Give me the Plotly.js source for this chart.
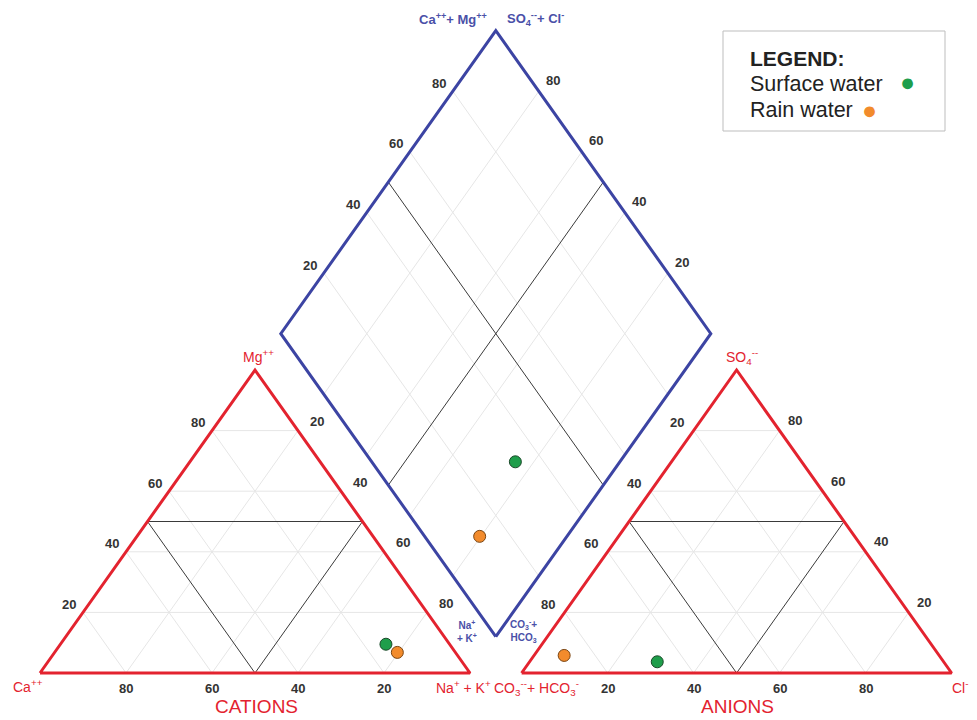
<!DOCTYPE html>
<html>
<head>
<meta charset="utf-8">
<script src="https://cdn.plot.ly/plotly-3.0.1.min.js"></script>
<style>
  html, body { margin: 0; padding: 0; background: #ffffff; }
  #chart { width: 977px; height: 720px; }
</style>
</head>
<body>
<div id="chart"></div>
<script>
// Sample groups and their major-ion composition (% of meq/L)
const samples = ["Surface water", "Rain water"];
const sampleColors = ["#1f9e4b", "#f28b2c"];
const sampleEdges = ["#1b4a2a", "#7a4512"];
// cations
const caPct = [14.8, 13.5];
const mgPct = [9.5, 6.8];
const naKPct = [75.7, 79.7];
// anions
const hco3Pct = [66.6, 87.2];
const so4Pct = [3.7, 5.8];
const clPct = [29.7, 7.0];

const tickValues = [20, 40, 60, 80];
const gridLevels = [20, 40, 60, 80];

// ---- Piper geometry (side = 100, gap between triangles = 12) ----
const H = Math.sqrt(3) / 2;
const GAP = 12;
const CA = [0, 0], NA = [100, 0], MG = [50, 100 * H];
const OX = 100 + GAP;
const CO3 = [OX, 0], CL = [OX + 100, 0], SO4 = [OX + 50, 100 * H];
const DB = [100 + GAP / 2, (GAP / 2) * Math.sqrt(3)];
const DL = [DB[0] - 50, DB[1] + 100 * H];
const DR = [DB[0] + 50, DB[1] + 100 * H];
const DT = [DB[0], DB[1] + 200 * H];

function tern(A, B, C, a, b, c) {
  const s = a + b + c;
  return [(a * A[0] + b * B[0] + c * C[0]) / s, (a * A[1] + b * B[1] + c * C[1]) / s];
}
function cation(ca, na, mg) { return tern(CA, NA, MG, ca, na, mg); }
function anion(co3, cl, so4) { return tern(CO3, CL, SO4, co3, cl, so4); }
// diamond: fraction of Ca+Mg along DB->DL, fraction of SO4+Cl along DB->DR
function diamond(camg, so4cl) {
  const a = camg / 100, b = so4cl / 100;
  return [DB[0] + a * (DL[0] - DB[0]) + b * (DR[0] - DB[0]),
          DB[1] + a * (DL[1] - DB[1]) + b * (DR[1] - DB[1])];
}

function segs(list) {
  const x = [], y = [];
  list.forEach(s => { x.push(s[0][0], s[1][0], null); y.push(s[0][1], s[1][1], null); });
  return { x, y };
}

function triGrid(f, levels) {
  const out = [];
  levels.forEach(k => {
    const r = 100 - k;
    out.push([f(k, r, 0), f(k, 0, r)]);
    out.push([f(r, k, 0), f(0, k, r)]);
    out.push([f(r, 0, k), f(0, r, k)]);
  });
  return out;
}
function diaGrid(levels) {
  const out = [];
  levels.forEach(k => {
    out.push([diamond(k, 0), diamond(k, 100)]);
    out.push([diamond(0, k), diamond(100, k)]);
  });
  return out;
}

const greyLines = segs([].concat(triGrid(cation, gridLevels), triGrid(anion, gridLevels), diaGrid(gridLevels)));
const blackLines = segs([].concat(triGrid(cation, [50]), triGrid(anion, [50]), diaGrid([50])));

const RED = "#e3232f", BLUE = "#3c44a3";

const traces = [];
traces.push({ type: "scatter", mode: "lines", x: greyLines.x, y: greyLines.y,
  line: { color: "#e6e6e6", width: 1 }, hoverinfo: "skip" });
traces.push({ type: "scatter", mode: "lines", x: blackLines.x, y: blackLines.y,
  line: { color: "#3a3a3a", width: 1 }, hoverinfo: "skip" });
[[CA, NA, MG], [CO3, CL, SO4]].forEach(t => {
  traces.push({ type: "scatter", mode: "lines",
    x: [t[0][0], t[1][0], t[2][0], t[0][0]], y: [t[0][1], t[1][1], t[2][1], t[0][1]],
    line: { color: RED, width: 3 }, hoverinfo: "skip" });
});
traces.push({ type: "scatter", mode: "lines",
  x: [DB[0], DR[0], DT[0], DL[0], DB[0]], y: [DB[1], DR[1], DT[1], DL[1], DB[1]],
  line: { color: BLUE, width: 3 }, hoverinfo: "skip" });

// sample points in the three fields
samples.forEach((name, i) => {
  const pc = cation(caPct[i], naKPct[i], mgPct[i]);
  const pa = anion(hco3Pct[i], clPct[i], so4Pct[i]);
  const pd = diamond(caPct[i] + mgPct[i], so4Pct[i] + clPct[i]);
  traces.push({ type: "scatter", mode: "markers", name: name,
    x: [pc[0], pa[0], pd[0]], y: [pc[1], pa[1], pd[1]],
    marker: { size: 12, color: sampleColors[i], line: { color: sampleEdges[i], width: 1 } } });
});

// ---- text ----
const FONT = "Liberation Sans, Arial, Helvetica, sans-serif";
const annotations = [];
function tick(p, text, dx, dy) {
  annotations.push({ x: p[0], y: p[1], xref: "x", yref: "y", text: String(text), showarrow: false,
    xshift: dx, yshift: -dy, xanchor: "center", yanchor: "middle",
    font: { family: FONT, size: 13, color: "#333333", weight: "bold" } });
}
tickValues.forEach(k => {
  tick(cation(100 - k, 0, k), k, -14, -8);      // Mg along Ca-Mg edge
  tick(cation(0, k, 100 - k), k, 19, -9);       // Na+K along Na-Mg edge
  tick(cation(k, 100 - k, 0), k, 0, 15);        // Ca along base
  tick(anion(k, 0, 100 - k), k, -17, -8);       // CO3+HCO3 along left edge
  tick(anion(0, 100 - k, k), k, 15, -10);       // SO4 along right edge
  tick(anion(100 - k, k, 0), k, 0, 15);         // Cl along base
  tick(diamond(100, k), k, -14, -8);            // upper-left diamond edge
  tick(diamond(k, 100), k, 14, -11);            // upper-right diamond edge
});

function label(px, py, text, color, size, opts) {
  annotations.push(Object.assign({ x: px / 977, y: 1 - py / 720, xref: "paper", yref: "paper",
    text: text, showarrow: false, xanchor: "center", yanchor: "middle",
    font: { family: FONT, size: size, color: color } }, opts || {}));
}
label(28, 686, "Ca<sup>++</sup>", RED, 14);
label(463, 687, "Na<sup>+</sup> + K<sup>+</sup>", RED, 14);
label(258, 356, "Mg<sup>++</sup>", RED, 14);
label(256, 706, "CATIONS", RED, 19);
label(536, 688, "CO<sub>3</sub><sup>--</sup>+ HCO<sub>3</sub><sup>-</sup>", RED, 14);
label(960, 687, "Cl<sup>-</sup>", RED, 14);
label(742, 357, "SO<sub>4</sub><sup>--</sup>", RED, 14);
label(737, 706, "ANIONS", RED, 19);

const blueFont = { family: FONT, size: 13, color: "#4a50a8", weight: "bold" };
label(453, 19, "Ca<sup>++</sup>+ Mg<sup>++</sup>", BLUE, 13, { font: blueFont });
label(535, 19, "SO<sub>4</sub><sup>--</sup>+ Cl<sup>-</sup>", BLUE, 13, { font: blueFont });
const smallBlue = { family: FONT, size: 10, color: "#4a50a8", weight: "bold" };
label(467, 631, "Na<sup>+</sup><br>+ K<sup>+</sup>", BLUE, 10, { font: smallBlue });
label(523, 631, "CO<sub>3</sub><sup>-</sup>+<br>HCO<sub>3</sub>", BLUE, 10, { font: smallBlue });

// legend block
label(748, 58, "<b>LEGEND:</b>", "#222222", 21, { xanchor: "left" });
label(748, 84, "Surface water", "#222222", 21.5, { xanchor: "left" });
label(748, 110, "Rain water", "#222222", 21.5, { xanchor: "left" });
label(907, 82, "●", sampleColors[0], 25);
label(869, 110, "●", sampleColors[1], 25);

const shapes = [{ type: "rect", xref: "paper", yref: "paper",
  x0: 723 / 977, x1: 945 / 977, y0: 1 - 131 / 720, y1: 1 - 31 / 720,
  line: { color: "#bdbdbd", width: 1 }, fillcolor: "rgba(0,0,0,0)" }];

// axis ranges chosen so that 100 units span 430 px horizontally and the
// triangle height (86.6 units) spans 303 px vertically
const xs = 430 / 100, ys = 303 / (100 * H);
const layout = {
  width: 977, height: 720, autosize: false,
  margin: { l: 0, r: 0, t: 0, b: 0 },
  paper_bgcolor: "#ffffff", plot_bgcolor: "#ffffff",
  showlegend: false,
  xaxis: { range: [-40 / xs, (977 - 40) / xs], visible: false, fixedrange: true },
  yaxis: { range: [-(720 - 673) / ys, 673 / ys], visible: false, fixedrange: true },
  annotations: annotations,
  shapes: shapes,
  font: { family: FONT }
};

Plotly.newPlot("chart", traces, layout, { displayModeBar: false, staticPlot: true });
</script>
</body>
</html>
